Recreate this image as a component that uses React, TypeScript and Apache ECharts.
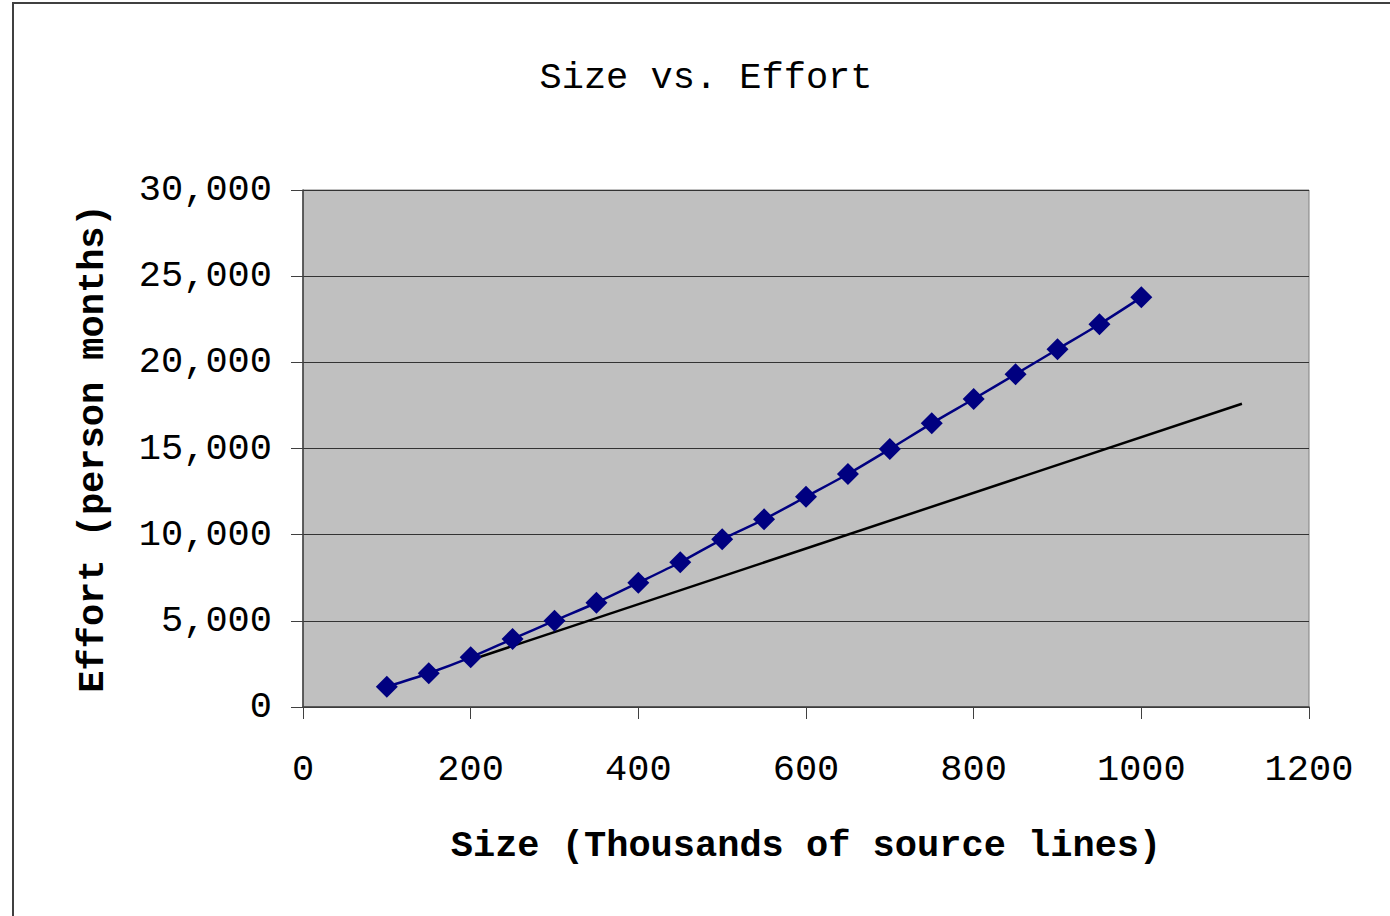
import React, { useEffect, useRef } from "react";
import * as echarts from "echarts";

// Program size in thousands of source lines and the matching effort estimate
const sizes = [100, 150, 200, 250, 300, 350, 400, 450, 500, 550, 600, 650, 700, 750, 800, 850, 900, 950, 1000];
const effort = [1180, 1960, 2880, 3950, 5010, 6050, 7210, 8400, 9730, 10890, 12200, 13520, 14970, 16460, 17870, 19310, 20760, 22210, 23770];

// Straight reference line (start and end points)
const lineSizes = [200, 1120];
const lineEffort = [2730, 17600];

const chartTitle = "Size vs. Effort";
const xTitle = "Size (Thousands of source lines)";
const yTitle = "Effort (person months)";

const FONT = "'Liberation Mono', 'Courier New', monospace";

export default function App() {
  const ref = useRef<HTMLDivElement>(null);

  useEffect(() => {
    if (!ref.current) return;
    const chart = echarts.init(ref.current, undefined, { renderer: "svg" });
    chart.setOption({
      animation: false,
      backgroundColor: "#ffffff",
      textStyle: { fontFamily: FONT },
      graphic: [
        {
          type: "rect",
          shape: { x: 13, y: 3, width: 1400, height: 930 },
          style: { fill: "none", stroke: "#404040", lineWidth: 2 },
          silent: true,
          z: -10,
        },
        {
          type: "text",
          x: 706,
          y: 78,
          style: {
            text: chartTitle,
            font: `37px ${FONT}`,
            fill: "#000000",
            textAlign: "center",
            textVerticalAlign: "middle",
          },
        },
      ],
      grid: {
        left: 303,
        top: 190,
        width: 1006,
        height: 517,
        show: true,
        backgroundColor: "#C0C0C0",
        borderColor: "#808080",
        borderWidth: 1,
      },
      xAxis: {
        type: "value",
        min: 0,
        max: 1200,
        interval: 200,
        name: xTitle,
        nameLocation: "middle",
        nameGap: 120,
        nameTextStyle: { fontFamily: FONT, fontSize: 37, fontWeight: "bold", color: "#000" },
        axisLine: { show: true, lineStyle: { color: "#404040", width: 1.5 } },
        axisTick: { show: true, length: 12, lineStyle: { color: "#404040", width: 1 } },
        axisLabel: {
          margin: 44,
          fontFamily: FONT,
          fontSize: 37,
          color: "#000",
          formatter: (v: number) => String(v),
        },
        splitLine: { show: false },
      },
      yAxis: {
        type: "value",
        min: 0,
        max: 30000,
        interval: 5000,
        name: yTitle,
        nameLocation: "middle",
        nameGap: 192,
        nameTextStyle: { fontFamily: FONT, fontSize: 37, fontWeight: "bold", color: "#000" },
        axisLine: { show: true, lineStyle: { color: "#404040", width: 1.5 } },
        axisTick: { show: true, length: 12, lineStyle: { color: "#404040", width: 1 } },
        axisLabel: {
          margin: 31,
          fontFamily: FONT,
          fontSize: 37,
          color: "#000",
          verticalAlign: "middle",
          lineHeight: 37,
          padding: [8, 0, 0, 0],
          formatter: (v: number) => v.toLocaleString("en-US"),
        },
        splitLine: { show: true, lineStyle: { color: "#333333", width: 1 } },
      },
      series: [
        {
          type: "line",
          data: lineSizes.map((x, i) => [x, lineEffort[i]]),
          symbol: "none",
          lineStyle: { color: "#000000", width: 2.5 },
          z: 2,
        },
        {
          type: "line",
          data: sizes.map((x, i) => [x, effort[i]]),
          smooth: 0.3,
          symbol: "diamond",
          symbolSize: 22,
          itemStyle: { color: "#000080" },
          lineStyle: { color: "#000080", width: 2.5 },
          z: 3,
        },
      ],
    });
    return () => chart.dispose();
  }, []);

  return (
    <div
      ref={ref}
      style={{ position: "fixed", left: 0, top: 0, width: 1390, height: 916 }}
    />
  );
}
